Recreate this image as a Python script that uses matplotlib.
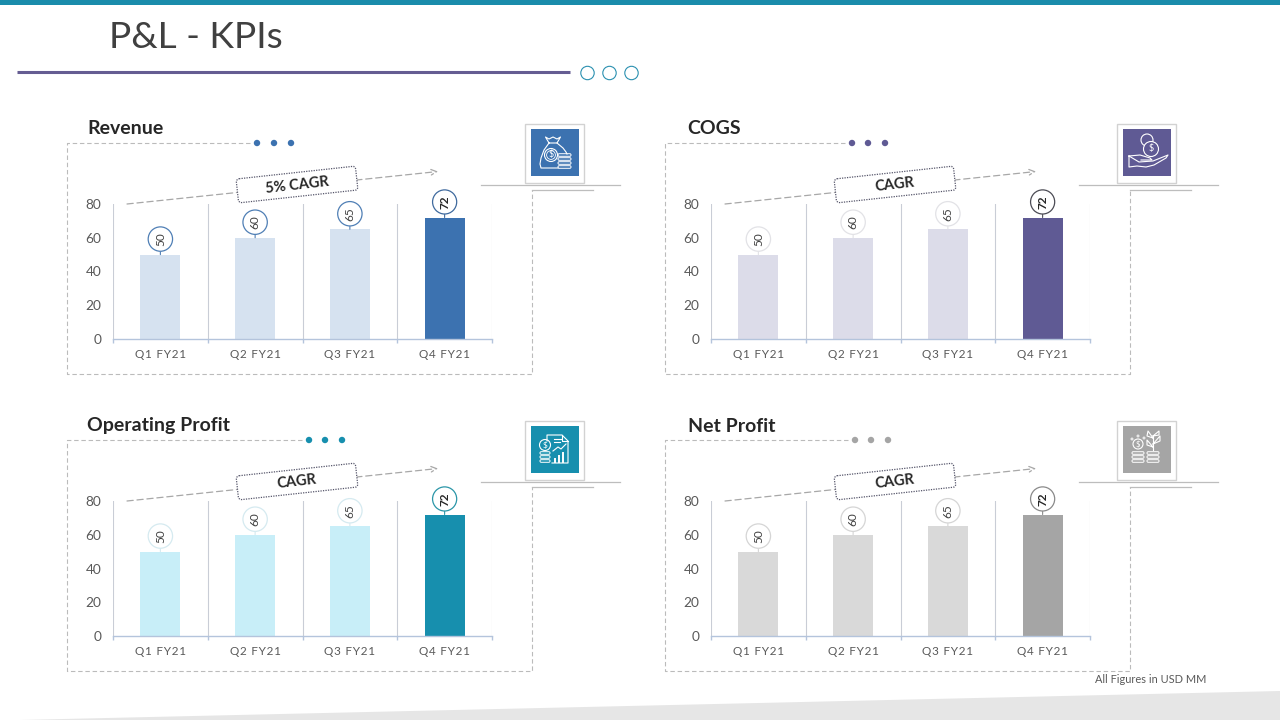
import matplotlib
matplotlib.use("Agg")
import matplotlib.pyplot as plt
from matplotlib.patches import Polygon, Circle, Rectangle, FancyBboxPatch
from matplotlib.ticker import FixedLocator
from matplotlib.transforms import Affine2D

plt.rcParams['font.family'] = ['Lato', 'DejaVu Sans']

# chart data
quarters = ["Q1 FY21", "Q2 FY21", "Q3 FY21", "Q4 FY21"]
revenue = [50, 60, 65, 72]
cogs = [50, 60, 65, 72]
op_profit = [50, 60, 65, 72]
net_profit = [50, 60, 65, 72]
y_ticks = [0, 20, 40, 60, 80]

panel_titles = ["Revenue", "COGS", "Operating Profit", "Net Profit"]
panel_values = [revenue, cogs, op_profit, net_profit]
cagr_labels = ["5% CAGR", "CAGR", "CAGR", "CAGR"]
light_colors = ["#d6e2f0", "#dcdce9", "#c8eef8", "#d9d9d9"]
dark_colors = ["#3c72b0", "#5f5a94", "#178fae", "#a5a5a5"]
ring_light = ["#4f7fb5", "#e2e2e6", "#d5eaf0", "#d5d5d5"]
ring_dark = ["#3f6a9e", "#4c4c55", "#2b96a8", "#8a8a8a"]

# pixel offsets of each panel from the Revenue one
off_x = [0, 598, 0, 598]
off_y = [0, 0, 297, 297]
icon_x = [0, 592, 0, 592]
dot_x = [[257, 274, 291], [852, 868, 885], [309, 325, 342], [855, 871, 888]]
dash_end = [250, 845, 302, 848]

GRAY = "#bbbbbb"
TEXT = "#595959"

fig = plt.figure(figsize=(12.8, 7.2), dpi=100, facecolor="white")

# full figure axes in pixel coordinates for the slide decoration
bg = fig.add_axes([0, 0, 1, 1])
bg.set_xlim(0, 1280)
bg.set_ylim(720, 0)
bg.axis("off")

bg.add_patch(Rectangle((0, 0), 1280, 5, color="#1a8cab", lw=0))
bg.add_patch(Polygon([(20, 720), (1280, 691), (1280, 720)], color="#e6e6e6", lw=0))
bg.text(109, 37.5, "P&L - KPIs", fontsize=26.7, color="#404040", va="center", ha="left")
bg.plot([17, 570], [72, 72], color="#655d92", lw=2.2, solid_capstyle="butt")
for cx in [587.5, 609.5, 631.5]:
    bg.add_patch(Circle((cx, 73), 6.7, fc="white", ec="#2a90b0", lw=0.8))
bg.text(1206, 679.5, "All Figures in USD MM", fontsize=7.9, color=TEXT, ha="right", va="center")


def line(xs, ys, **kw):
    kw.setdefault("color", "white")
    kw.setdefault("lw", 0.8)
    bg.plot(xs, ys, **kw)


def coin_stack(x, ys, w, fc):
    for y in ys:
        bg.add_patch(FancyBboxPatch((x, y - 1.3), w, 2.6, boxstyle="round,pad=0,rounding_size=1.2",
                                    fc=fc, ec="white", lw=0.7))


def dollar(x, y, r, fc="none", size=6):
    bg.add_patch(Circle((x, y), r, fc=fc, ec="white", lw=0.8))
    bg.text(x, y, "$", color="white", fontsize=size, ha="center", va="center")


def icon_bag():
    line([549, 545.5, 549, 553, 557, 560.5, 557, 549], [143, 137, 139, 137, 139, 137, 143, 143])
    line([549, 544, 541, 540, 541, 558], [143, 150, 158, 164, 168, 168])
    line([557, 563, 566, 567], [143, 148, 152, 154])
    dollar(551, 155, 6.5, size=6.5)
    bg.add_patch(Circle((551, 155), 4.4, fc="none", ec="white", lw=0.6))
    coin_stack(558, [155, 159, 163, 167], 13, dark_colors[0])


def icon_hand():
    line([1129, 1129, 1137, 1146, 1154, 1166, 1168, 1153, 1139, 1129], [156, 167, 166, 167, 165, 158, 155, 161, 162, 156])
    line([1129, 1140, 1150, 1152, 1141], [156, 155, 158, 160, 160])
    bg.add_patch(Circle((1147, 140), 6, fc="none", ec="white", lw=0.8))
    dollar(1151, 149, 7.5, fc=dark_colors[1], size=6.5)


def icon_report():
    line([547, 547, 562, 568, 568, 552], [441, 435, 435, 441, 463, 463])
    line([562, 562, 568], [435, 441, 441])
    dollar(545, 445, 5.5, fc=dark_colors[2])
    coin_stack(540, [453, 457, 461], 10, dark_colors[2])
    line([553, 558, 561, 566], [451, 447, 449, 444])
    for x, top in zip([555, 559, 563], [459, 456, 453]):
        line([x, x], [462, top], lw=1.4)
    line([554, 561], [439, 439])
    line([554, 560], [442, 442])


def icon_plant():
    dollar(1138, 444, 5, size=5.5)
    coin_stack(1132, [453, 457, 461], 12, dark_colors[3])
    coin_stack(1147, [453, 457, 461], 12, dark_colors[3])
    line([1153, 1153], [450, 436])
    line([1153, 1147, 1147, 1153], [447, 445, 440, 447])
    line([1153, 1160, 1160, 1153], [444, 441, 436, 444])
    line([1153, 1147, 1148, 1153], [438, 436, 431, 438])
    line([1153, 1159, 1159, 1153], [436, 435, 431, 436])
    for x, y in [(1132, 439), (1138, 436), (1144, 438)]:
        bg.add_patch(Circle((x, y), 1, fc="none", ec="white", lw=0.6))


icon_funcs = [icon_bag, icon_hand, icon_report, icon_plant]

for k in range(4):
    ox, oy = off_x[k], off_y[k]
    dash = dict(color=GRAY, lw=0.8, ls=(0, (4, 2.5)))

    # dashed frame and the rule lines at the icon
    line([dash_end[k], 67 + ox, 67 + ox, 531.5 + ox, 531.5 + ox], [142.5 + oy, 142.5 + oy, 374 + oy, 374 + oy, 190 + oy], **dash)
    line([481 + ox, 620 + ox], [185 + oy, 185 + oy], color="#bdbdbd", lw=0.9)
    line([531.5 + ox, 593 + ox], [189.5 + oy, 189.5 + oy], color="#bdbdbd", lw=0.9)
    for cx in dot_x[k]:
        bg.add_patch(Circle((cx, 143 + oy), 3.2, fc=dark_colors[k], lw=0))

    bg.text(87 + ox + (2.5 if k % 2 else 0), 134.5 + oy, panel_titles[k], fontsize=14, fontweight="bold",
            color="#262626", va="baseline", ha="left")

    # icon tile
    ix = icon_x[k]
    bg.add_patch(Rectangle((525 + ix, 123.5 + oy), 59, 59, fc="white", ec="#d2d2d2", lw=1))
    bg.add_patch(Rectangle((531 + ix, 129 + oy), 47.5, 47, fc=dark_colors[k], lw=0))
    icon_funcs[k]()

    # CAGR arrow and the tilted tag on it
    bg.annotate("", xy=(438 + ox, 171.5 + oy), xytext=(127 + ox, 204 + oy),
                arrowprops=dict(arrowstyle="->", color="#a8a8a8", lw=0.9, ls=(0, (5, 3)), mutation_scale=10, shrinkA=0, shrinkB=0))
    turn = Affine2D().rotate_deg(-6.2).translate(297 + ox, 184.5 + oy) + bg.transData
    bg.add_patch(FancyBboxPatch((-60, -12), 120, 24, boxstyle="round,pad=0,rounding_size=3", fc="white", ec="#55556a",
                                lw=0.9, ls=(0, (1, 1)), transform=turn, zorder=3))
    bg.text(297 + ox, 185 + oy, cagr_labels[k], rotation=6.5, rotation_mode="anchor", fontsize=10.5, fontweight="bold",
            color="#262626", ha="center", va="center", zorder=4)

    # chart, placed by its pixel box
    x0, x1 = 113 + ox, 492 + ox
    y0, y1 = 339 + oy, 204 + oy
    ax = fig.add_axes([x0 / 1280, 1 - y0 / 720, (x1 - x0) / 1280, (y0 - y1) / 720])
    ax.patch.set_alpha(0)
    values = panel_values[k]
    colors = [light_colors[k]] * 3 + [dark_colors[k]]
    ax.bar(range(4), values, width=0.42, color=colors, zorder=2)
    ax.set_xlim(-0.5, 3.5)
    ax.set_ylim(0, 80)
    ax.set_xticks(range(4))
    # the slide sets these labels with wide letter spacing
    ax.set_xticklabels(["\u200a".join(q) for q in quarters], fontsize=8.5, color=TEXT)
    ax.set_yticks(y_ticks)
    ax.set_yticklabels([str(v) for v in y_ticks], fontsize=9.8, color=TEXT)
    ax.xaxis.set_minor_locator(FixedLocator([-0.5, 0.5, 1.5, 2.5, 3.5]))
    ax.tick_params(axis="x", which="major", length=0, pad=7)
    ax.tick_params(axis="x", which="minor", length=3, color="#b4c4dc", width=1)
    ax.tick_params(axis="y", length=0, pad=8.5)
    ax.grid(True, axis="x", which="minor", color="#c9cdd6", lw=0.8, zorder=1)
    ax.grid(False, axis="x", which="major")
    ax.grid(False, axis="y")
    for name in ["top", "left", "right"]:
        ax.spines[name].set_visible(False)
    ax.spines["bottom"].set_color("#b4c4dc")
    ax.spines["bottom"].set_linewidth(1)

    # value bubbles over the bars
    for i, v in enumerate(values):
        ring = ring_dark[k] if i == 3 else ring_light[k]
        ax.annotate(str(v), xy=(i, v), xytext=(0, 11.2), textcoords="offset points", rotation=90,
                    ha="center", va="center", fontsize=8.5, color="#262626" if i == 3 else "#404040",
                    fontweight="bold" if i == 3 else "normal", annotation_clip=False, zorder=5,
                    bbox=dict(boxstyle="circle,pad=0.45", fc="white", ec=ring, lw=0.9),
                    arrowprops=dict(arrowstyle="-", color=ring, lw=0.8, shrinkA=0, shrinkB=0))

fig.savefig("out.png", dpi=100)
